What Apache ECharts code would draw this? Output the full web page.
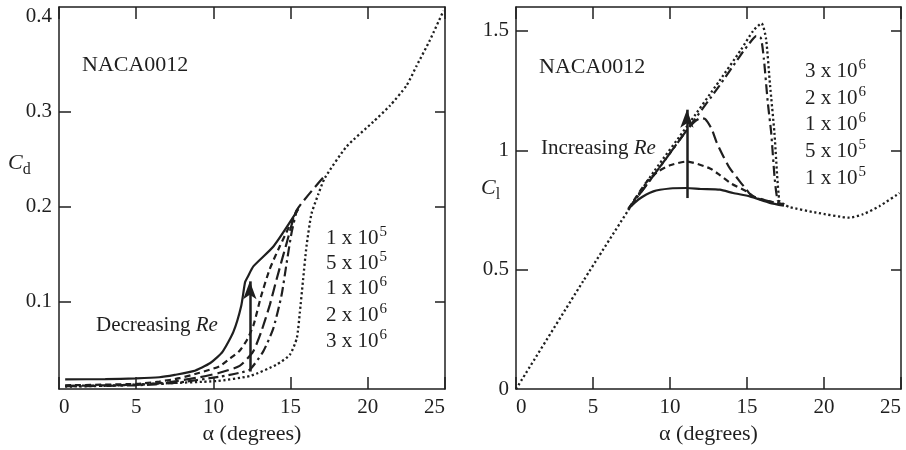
<!DOCTYPE html>
<html><head><meta charset="utf-8">
<script src="https://cdn.jsdelivr.net/npm/echarts@6/dist/echarts.min.js"></script>
<style>html,body{margin:0;padding:0;background:#fff}#c{width:906px;height:450px}</style>
</head><body><div id="c"></div>
<script>
// ---- tick labels ----
const xTicks = [0, 5, 10, 15, 20, 25];
const cdLabelTicks = [0.1, 0.2, 0.3, 0.4];
const cdInnerTicks = [0.1, 0.2, 0.3];
const clTicks = [0, 0.5, 1, 1.5];

// ---- drag coefficient Cd vs alpha ----
const cdRe1e5 = [[0.4,0.0178],[3,0.018],[5,0.0188],[6.5,0.020],[7.5,0.0225],[8.7,0.0264],[9.8,0.035],[10.6,0.047],[11.3,0.068],[11.8,0.095],[12.05,0.12],[12.2,0.125],[12.6,0.137],[13.9,0.158],[15.5,0.197]];
const cdRe5e5 = [[0.4,0.0115],[5,0.013],[6.5,0.0155],[7.8,0.019],[9.1,0.0247],[10.4,0.0316],[11.1,0.040],[11.7,0.048],[12.2,0.060],[12.6,0.075],[13.1,0.106],[13.65,0.134],[14.3,0.158],[15.45,0.197]];
const cdRe1e6 = [[0.4,0.011],[5,0.012],[7,0.0145],[9.1,0.020],[10.4,0.0247],[11.7,0.032],[12.57,0.047],[13.1,0.068],[13.65,0.096],[14.09,0.123],[14.74,0.161],[15.4,0.196],[17.2,0.232]];
const cdRe2e6 = [[0.4,0.0105],[5,0.0115],[7.5,0.014],[10.4,0.0205],[11.7,0.0247],[12.36,0.028],[13.22,0.047],[13.87,0.071],[14.41,0.106],[14.74,0.140],[15.06,0.172],[15.4,0.196]];
const cdRe3e6 = [[0.4,0.0101],[3,0.011],[6.5,0.0134],[10.2,0.016],[12.4,0.0215],[14.1,0.0334],[14.95,0.0437],[15.4,0.061],[15.6,0.0886],[15.81,0.123],[16.03,0.158],[16.35,0.192],[16.8,0.213],[17.22,0.230],[18.63,0.263],[20.35,0.289],[21.43,0.306],[22.5,0.327],[23.16,0.348],[24.02,0.375],[24.9,0.406]];

// ---- lift coefficient Cl vs alpha ----
const clRe1e5 = [[7.3,0.755],[7.95,0.794],[8.92,0.828],[10,0.84],[11.08,0.842],[12,0.838],[13.24,0.835],[14.1,0.821],[15.18,0.807],[16.48,0.78],[17.4,0.768]];
const clRe5e5 = [[7.3,0.755],[8.49,0.869],[9.2,0.91],[10,0.937],[11.08,0.953],[12.6,0.924],[13.24,0.896],[14.0,0.86],[14.97,0.828],[15.6,0.80],[17.4,0.773]];
const clRe1e6 = [[7.3,0.755],[9,0.90],[11.1,1.085],[11.6,1.12],[12.0,1.135],[12.3,1.13],[12.7,1.09],[13.03,1.033],[13.5,0.97],[13.89,0.924],[14.54,0.869],[14.97,0.835],[15.3,0.81],[16.5,0.785],[17.4,0.773]];
const clRe2e6 = [[7.3,0.755],[9,0.90],[11.1,1.085],[13.2,1.27],[14.6,1.40],[15.3,1.46],[15.6,1.478],[15.9,1.47],[16.1,1.38],[16.35,1.20],[16.57,1.074],[16.8,0.88],[17.0,0.79],[17.4,0.773]];
const clRe3e6 = [[0,0],[4.36,0.452],[7.6,0.78],[9.0,0.915],[11.1,1.10],[13.2,1.29],[14.6,1.42],[15.4,1.50],[15.94,1.532],[16.23,1.47],[16.5,1.27],[16.78,1.074],[17.1,0.787],[17.43,0.773],[17.75,0.762],[19.5,0.739],[21.66,0.718],[22.53,0.732],[23.6,0.766],[24.9,0.821]];

// ---- annotation arrows ----
const arrowCd = [[12.36,0.026],[12.36,0.121]];
const arrowCl = [[11.1,0.80],[11.1,1.17]];

// ---- Reynolds-number labels [mantissa, exponent] ----
const reLeft  = [['1','5'],['5','5'],['1','6'],['2','6'],['3','6']];
const reRight = [['3','6'],['2','6'],['1','6'],['5','5'],['1','5']];

const FONT = '"Liberation Serif", "DejaVu Serif", serif';
const INK = '#1f1f1f';

const chart = echarts.init(document.getElementById('c'), null, {renderer:'canvas'});

function xAx(gi, bottom){
  return {
    type:'value', gridIndex:gi, min:0, max:25, interval:5,
    position: bottom ? 'bottom' : 'top',
    axisLine:{show:true, onZero:false, lineStyle:{color:INK, width:1.5}},
    axisTick:{show:true, inside:true, length:12, lineStyle:{color:INK, width:1.5}},
    axisLabel:{show:bottom, color:INK, fontFamily:FONT, fontSize:21, margin:8,
               alignMinLabel:'left', alignMaxLabel:'right'},
    splitLine:{show:false},
    name: bottom ? 'α (degrees)' : '', nameLocation:'middle', nameGap:31,
    nameTextStyle:{color:INK, fontFamily:FONT, fontSize:22}
  };
}
function yAx(gi, left, min, max, labels, ticks){
  return {
    type:'value', gridIndex:gi, min:min, max:max,
    position: left ? 'left' : 'right',
    axisLine:{show:true, onZero:false, lineStyle:{color:INK, width:1.5}},
    axisTick:{show:true, inside:true, length:left?12:10, customValues:ticks, lineStyle:{color:INK, width:1.5}},
    axisLabel:{show:left, customValues:labels, color:INK, fontFamily:FONT, fontSize:21, margin:7},
    splitLine:{show:false}
  };
}

const dashStyles = {
  solid:  {type:'solid', width:2.2},
  short:  {type:[6,4], width:2.2},
  long:   {type:[12,5], width:2.2},
  dashdot:{type:[10,4,2.5,4], width:2.2},
  dot:    {type:[2.2,2.6], width:2.3}
};
function ser(data, xi, yi, st, extra){
  return Object.assign({
    type:'line', data:data, xAxisIndex:xi, yAxisIndex:yi,
    showSymbol:false, symbol:'none', smooth:0.2,
    lineStyle:Object.assign({color:INK}, dashStyles[st]),
    silent:true, z:3
  }, extra||{});
}
function arrowML(pts){
  return {
    silent:true, symbol:['none','arrow'], symbolSize:[10,18],
    label:{show:false},
    lineStyle:{color:INK, type:'solid', width:2.5},
    data:[[{coord:pts[0]},{coord:pts[1]}]]
  };
}

function reText(x, y, lst, dy){
  return lst.map((r,i)=>({
    type:'text', x:x, y:y + dy[i],
    style:{
      text:'{m|' + r[0] + ' x 10}{s|' + r[1] + '}',
      fill:INK, verticalAlign:'middle',
      rich:{
        m:{fontFamily:FONT, fontSize:21, fill:INK, lineHeight:24, verticalAlign:'bottom'},
        s:{fontFamily:FONT, fontSize:15, fill:INK, lineHeight:24, verticalAlign:'top', padding:[0,0,0,1]}
      }
    }
  }));
}

const graphics = [
  {type:'text', x:82, y:65, style:{text:'NACA0012', font:'22px '+FONT, fill:INK, verticalAlign:'middle'}},
  {type:'text', x:539, y:67, style:{text:'NACA0012', font:'22px '+FONT, fill:INK, verticalAlign:'middle'}},
  {type:'text', x:96, y:325, style:{text:'{n|Decreasing }{i|Re}', verticalAlign:'middle',
    rich:{n:{fontFamily:FONT, fontSize:21, fill:INK}, i:{fontFamily:FONT, fontSize:21, fontStyle:'italic', fill:INK}}}},
  {type:'text', x:541, y:148, style:{text:'{n|Increasing }{i|Re}', verticalAlign:'middle',
    rich:{n:{fontFamily:FONT, fontSize:21, fill:INK}, i:{fontFamily:FONT, fontSize:21, fontStyle:'italic', fill:INK}}}},
  {type:'text', x:8, y:165, style:{text:'{c|C}{d|d}', verticalAlign:'middle',
    rich:{c:{fontFamily:FONT, fontSize:22, fontStyle:'italic', fill:INK, lineHeight:26, verticalAlign:'top'},
          d:{fontFamily:FONT, fontSize:16, fill:INK, lineHeight:26, verticalAlign:'bottom'}}}},
  {type:'text', x:481, y:190, style:{text:'{c|C}{d|l}', verticalAlign:'middle',
    rich:{c:{fontFamily:FONT, fontSize:22, fontStyle:'italic', fill:INK, lineHeight:26, verticalAlign:'top'},
          d:{fontFamily:FONT, fontSize:16, fill:INK, lineHeight:26, verticalAlign:'bottom'}}}}
].concat(reText(326, 0, reLeft, [237,262,287,314,340]))
 .concat(reText(805, 0, reRight, [70,97,123,150,177]));

chart.setOption({
  animation:false,
  backgroundColor:'#fff',
  grid:[
    {left:59, top:7, width:386, height:388},
    {left:516, top:7, width:385, height:388}
  ],
  xAxis:[ xAx(0,true), xAx(0,false), xAx(1,true), xAx(1,false) ],
  yAxis:[
    yAx(0,true,0.0075,0.41,cdLabelTicks,cdInnerTicks),
    yAx(0,false,0.0075,0.41,cdLabelTicks,cdInnerTicks),
    yAx(1,true,0,1.6,clTicks,[0.5,1,1.5]),
    yAx(1,false,0,1.6,clTicks,[0.5,1,1.5])
  ],
  series:[
    ser(cdRe1e5,0,0,'solid',{markLine:arrowML(arrowCd)}),
    ser(cdRe5e5,0,0,'short'),
    ser(cdRe1e6,0,0,'long'),
    ser(cdRe2e6,0,0,'dashdot'),
    ser(cdRe3e6,0,0,'dot'),
    ser(clRe1e5,2,2,'solid',{markLine:arrowML(arrowCl)}),
    ser(clRe5e5,2,2,'short'),
    ser(clRe1e6,2,2,'long'),
    ser(clRe2e6,2,2,'dashdot'),
    ser(clRe3e6,2,2,'dot')
  ],
  graphic:graphics
});
</script></body></html>
